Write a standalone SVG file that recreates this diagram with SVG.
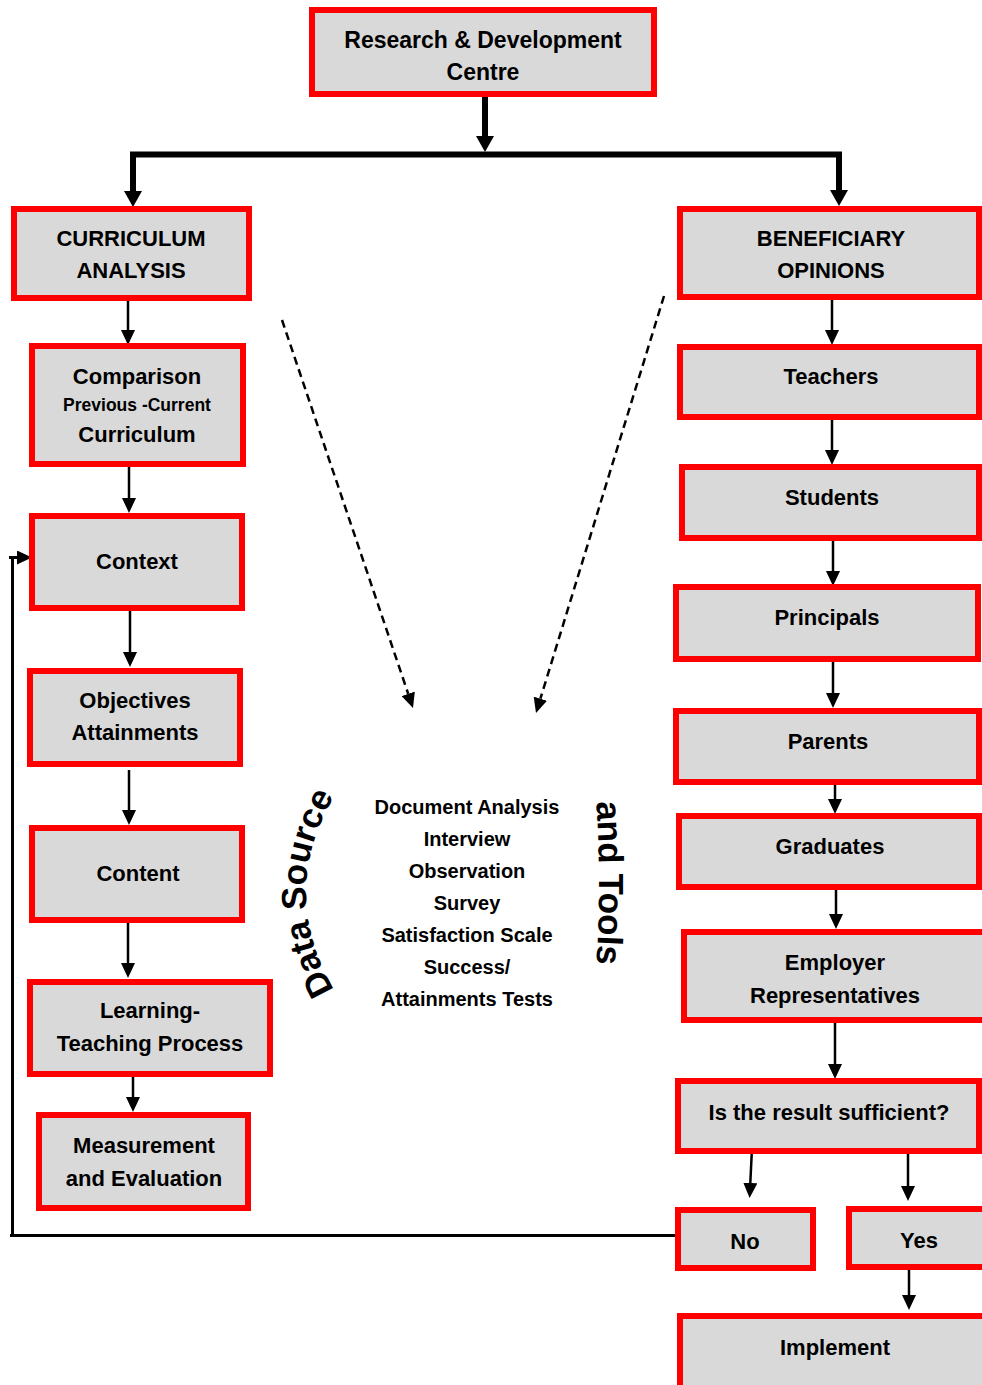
<svg xmlns="http://www.w3.org/2000/svg" width="982" height="1385" viewBox="0 0 982 1385">
<style>
.box{fill:#d9d9d9;stroke:#ff0000;stroke-width:6}
.t{font-family:"Liberation Sans",Arial,sans-serif;font-weight:bold;font-size:22px;fill:#000;text-anchor:middle}
.s{font-size:17.5px}
.c{font-size:20px}
.big{font-size:35px}
.thin{stroke:#000;stroke-width:2.5;fill:none;marker-end:url(#ah)}
.thick{stroke:#000;stroke-width:6;fill:none}
.dash{stroke:#000;stroke-width:2.5;fill:none;stroke-dasharray:8 5;marker-end:url(#ahd)}
.fb{stroke:#000;stroke-width:3;fill:none}
</style>
<defs>
<marker id="ah" markerUnits="userSpaceOnUse" markerWidth="15" markerHeight="14" refX="0" refY="7" orient="auto"><path d="M0,0 L15,7 L0,14 z" fill="#000"/></marker>
<marker id="ahd" markerUnits="userSpaceOnUse" markerWidth="15" markerHeight="14" refX="0" refY="7" orient="auto"><path d="M0,0 L15,7 L0,14 z" fill="#000"/></marker>
<marker id="ahb" markerUnits="userSpaceOnUse" markerWidth="16" markerHeight="18" refX="0" refY="9" orient="auto"><path d="M0,0 L16,9 L0,18 z" fill="#000"/></marker>
<path id="arcL" d="M 342 1002 Q 270 893 342 784"/>
<path id="arcR" d="M 596 798 Q 602 883 596 968"/>
</defs>

<g id="connectors">
<line class="thick" x1="485" y1="97" x2="485" y2="136" marker-end="url(#ahb)"/>
<polyline class="thick" points="133,192 133,154.5 839,154.5 839,191"/>
<polygon points="124,191 142,191 133,207" fill="#000"/>
<polygon points="830,190 848,190 839,206" fill="#000"/>
<line class="thin" x1="128" y1="301" x2="128" y2="330"/>
<line class="thin" x1="129" y1="467" x2="129" y2="498"/>
<line class="thin" x1="130" y1="611" x2="130" y2="652"/>
<line class="thin" x1="129" y1="770" x2="129" y2="810"/>
<line class="thin" x1="128" y1="923" x2="128" y2="963"/>
<line class="thin" x1="133" y1="1072" x2="133" y2="1097"/>
<line class="thin" x1="832" y1="300" x2="832" y2="330"/>
<line class="thin" x1="832" y1="419" x2="832" y2="450"/>
<line class="thin" x1="833" y1="541" x2="833" y2="571"/>
<line class="thin" x1="833" y1="662" x2="833" y2="693"/>
<line class="thin" x1="835" y1="785" x2="835" y2="799"/>
<line class="thin" x1="836" y1="890" x2="836" y2="914"/>
<line class="thin" x1="835" y1="1023" x2="835" y2="1064"/>
<line class="thin" x1="752" y1="1148" x2="750.3" y2="1183"/>
<line class="thin" x1="908" y1="1150" x2="908" y2="1186"/>
<line class="thin" x1="909" y1="1267" x2="909" y2="1295"/>
<line class="dash" x1="282" y1="320" x2="408.2" y2="693.8"/>
<line class="dash" x1="664" y1="296" x2="540.4" y2="698.7"/>
<polyline class="fb" points="682,1235.5 10,1235.5"/>
<line class="fb" x1="12.5" y1="1237" x2="12.5" y2="557"/>
<line class="fb" x1="9" y1="557.5" x2="17" y2="557.5" marker-end="url(#ah)"/>
</g>

<g id="rd"><rect class="box" x="312" y="10" width="342" height="84"/><text class="t" x="483" y="48" style="font-size:23px">Research &amp; Development</text><text class="t" x="483" y="80" style="font-size:23px">Centre</text></g>

<g id="curriculum"><rect class="box" x="14" y="209" width="235" height="89"/><text class="t" x="131" y="246">CURRICULUM</text><text class="t" x="131" y="278">ANALYSIS</text></g>
<g id="comparison"><rect class="box" x="32" y="346" width="211" height="118"/><text class="t" x="137" y="384">Comparison</text><text class="t s" x="137" y="411">Previous -Current</text><text class="t" x="137" y="442">Curriculum</text></g>
<g id="context"><rect class="box" x="32" y="516" width="210" height="92"/><text class="t" x="137" y="569">Context</text></g>
<g id="objectives"><rect class="box" x="30" y="671" width="210" height="93"/><text class="t" x="135" y="708">Objectives</text><text class="t" x="135" y="740">Attainments</text></g>
<g id="content"><rect class="box" x="32" y="828" width="210" height="92"/><text class="t" x="138" y="881">Content</text></g>
<g id="learning"><rect class="box" x="30" y="982" width="240" height="92"/><text class="t" x="150" y="1018">Learning-</text><text class="t" x="150" y="1051">Teaching Process</text></g>
<g id="measurement"><rect class="box" x="39" y="1115" width="209" height="93"/><text class="t" x="144" y="1153">Measurement</text><text class="t" x="144" y="1186">and Evaluation</text></g>

<g id="beneficiary"><rect class="box" x="680" y="209" width="299" height="88"/><text class="t" x="831" y="246">BENEFICIARY</text><text class="t" x="831" y="278">OPINIONS</text></g>
<g id="teachers"><rect class="box" x="680" y="347" width="299" height="70"/><text class="t" x="831" y="384">Teachers</text></g>
<g id="students"><rect class="box" x="682" y="467" width="297" height="71"/><text class="t" x="832" y="505">Students</text></g>
<g id="principals"><rect class="box" x="676" y="587" width="302" height="72"/><text class="t" x="827" y="625">Principals</text></g>
<g id="parents"><rect class="box" x="676" y="711" width="303" height="71"/><text class="t" x="828" y="749">Parents</text></g>
<g id="graduates"><rect class="box" x="679" y="816" width="300" height="71"/><text class="t" x="830" y="854">Graduates</text></g>
<g id="employer"><rect class="box" x="684" y="932" width="305" height="88"/><text class="t" x="835" y="970">Employer</text><text class="t" x="835" y="1003">Representatives</text></g>
<g id="sufficient"><rect class="box" x="678" y="1081" width="301" height="70"/><text class="t" x="829" y="1120">Is the result sufficient?</text></g>
<g id="no"><rect class="box" x="678" y="1210" width="135" height="58"/><text class="t" x="745" y="1249">No</text></g>
<g id="yes"><rect class="box" x="849" y="1209" width="140" height="58"/><text class="t" x="919" y="1248">Yes</text></g>
<g id="implement"><rect class="box" x="680" y="1316" width="310" height="100"/><text class="t" x="835" y="1355">Implement</text></g>

<g id="datasource"><text class="t big"><textPath href="#arcL" startOffset="50%">Data Source</textPath></text></g>
<g id="tools"><text class="t big"><textPath href="#arcR" startOffset="50%">and Tools</textPath></text></g>
<g id="methods">
<text class="t c" x="467" y="814">Document Analysis</text>
<text class="t c" x="467" y="846">Interview</text>
<text class="t c" x="467" y="878">Observation</text>
<text class="t c" x="467" y="910">Survey</text>
<text class="t c" x="467" y="942">Satisfaction Scale</text>
<text class="t c" x="467" y="974">Success/</text>
<text class="t c" x="467" y="1006">Attainments Tests</text>
</g>
</svg>
